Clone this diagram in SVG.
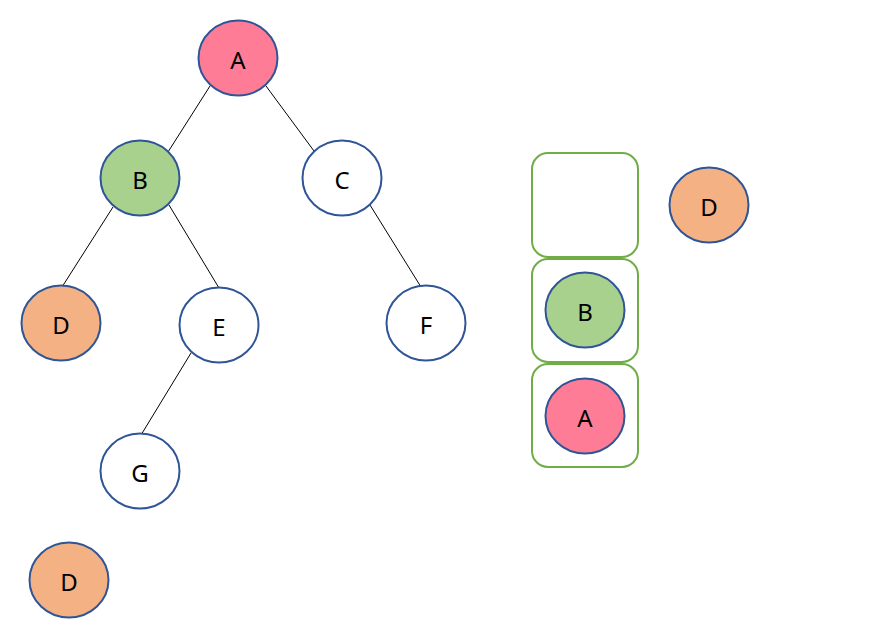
<svg xmlns="http://www.w3.org/2000/svg" width="880" height="632" viewBox="0 0 880 632">
<style>
.n{stroke:#2F5597;stroke-width:2}
.w{fill:#FFFFFF}.r{fill:#FF7C96}.g{fill:#A9D18E}.o{fill:#F4B183}
.t{font-family:"Noto Sans","Liberation Sans",sans-serif;font-size:24px;fill:#000;text-anchor:middle;dominant-baseline:central}
.box{fill:none;stroke:#70AD47;stroke-width:2}
.e{stroke:#000;stroke-width:1}
</style>
<rect width="880" height="632" fill="#fff"/>
<g id="connectors">
<line class="e" x1="210" y1="86" x2="168" y2="152"/>
<line class="e" x1="266" y1="86" x2="314" y2="151"/>
<line class="e" x1="113" y1="207" x2="62" y2="287"/>
<line class="e" x1="169" y1="205" x2="219" y2="288"/>
<line class="e" x1="370" y1="205" x2="421" y2="287"/>
<line class="e" x1="191" y1="353" x2="141" y2="435"/>
</g>
<g id="nodeA"><ellipse class="n r" cx="238" cy="58" rx="39.5" ry="37.5"/><text class="t" x="238" y="59">A</text></g>
<g id="nodeB"><ellipse class="n g" cx="140" cy="178" rx="39.5" ry="37.5"/><text class="t" x="140" y="179">B</text></g>
<g id="nodeC"><ellipse class="n w" cx="342" cy="178" rx="39.5" ry="37.5"/><text class="t" x="342" y="179">C</text></g>
<g id="nodeD"><ellipse class="n o" cx="61" cy="323" rx="39.5" ry="37.5"/><text class="t" x="61" y="324">D</text></g>
<g id="nodeE"><ellipse class="n w" cx="219" cy="325" rx="39.5" ry="37.5"/><text class="t" x="219" y="326">E</text></g>
<g id="nodeF"><ellipse class="n w" cx="426" cy="323" rx="39.5" ry="37.5"/><text class="t" x="426" y="324">F</text></g>
<g id="nodeG"><ellipse class="n w" cx="140" cy="471" rx="39.5" ry="37.5"/><text class="t" x="140" y="472">G</text></g>
<g id="nodeD2"><ellipse class="n o" cx="69" cy="580" rx="39.5" ry="37.5"/><text class="t" x="69" y="581">D</text></g>
<g id="stack">
<rect class="box" x="532" y="153" width="106" height="104" rx="16"/>
<rect class="box" x="532" y="259" width="106" height="103" rx="16"/>
<rect class="box" x="532" y="364" width="106" height="103" rx="16"/>
</g>
<g id="stackB"><ellipse class="n g" cx="585" cy="310" rx="39.5" ry="37.5"/><text class="t" x="585" y="311">B</text></g>
<g id="stackA"><ellipse class="n r" cx="585" cy="416" rx="39.5" ry="37.5"/><text class="t" x="585" y="417">A</text></g>
<g id="nodeD3"><ellipse class="n o" cx="709" cy="205" rx="39.5" ry="37.5"/><text class="t" x="709" y="206">D</text></g>
</svg>
